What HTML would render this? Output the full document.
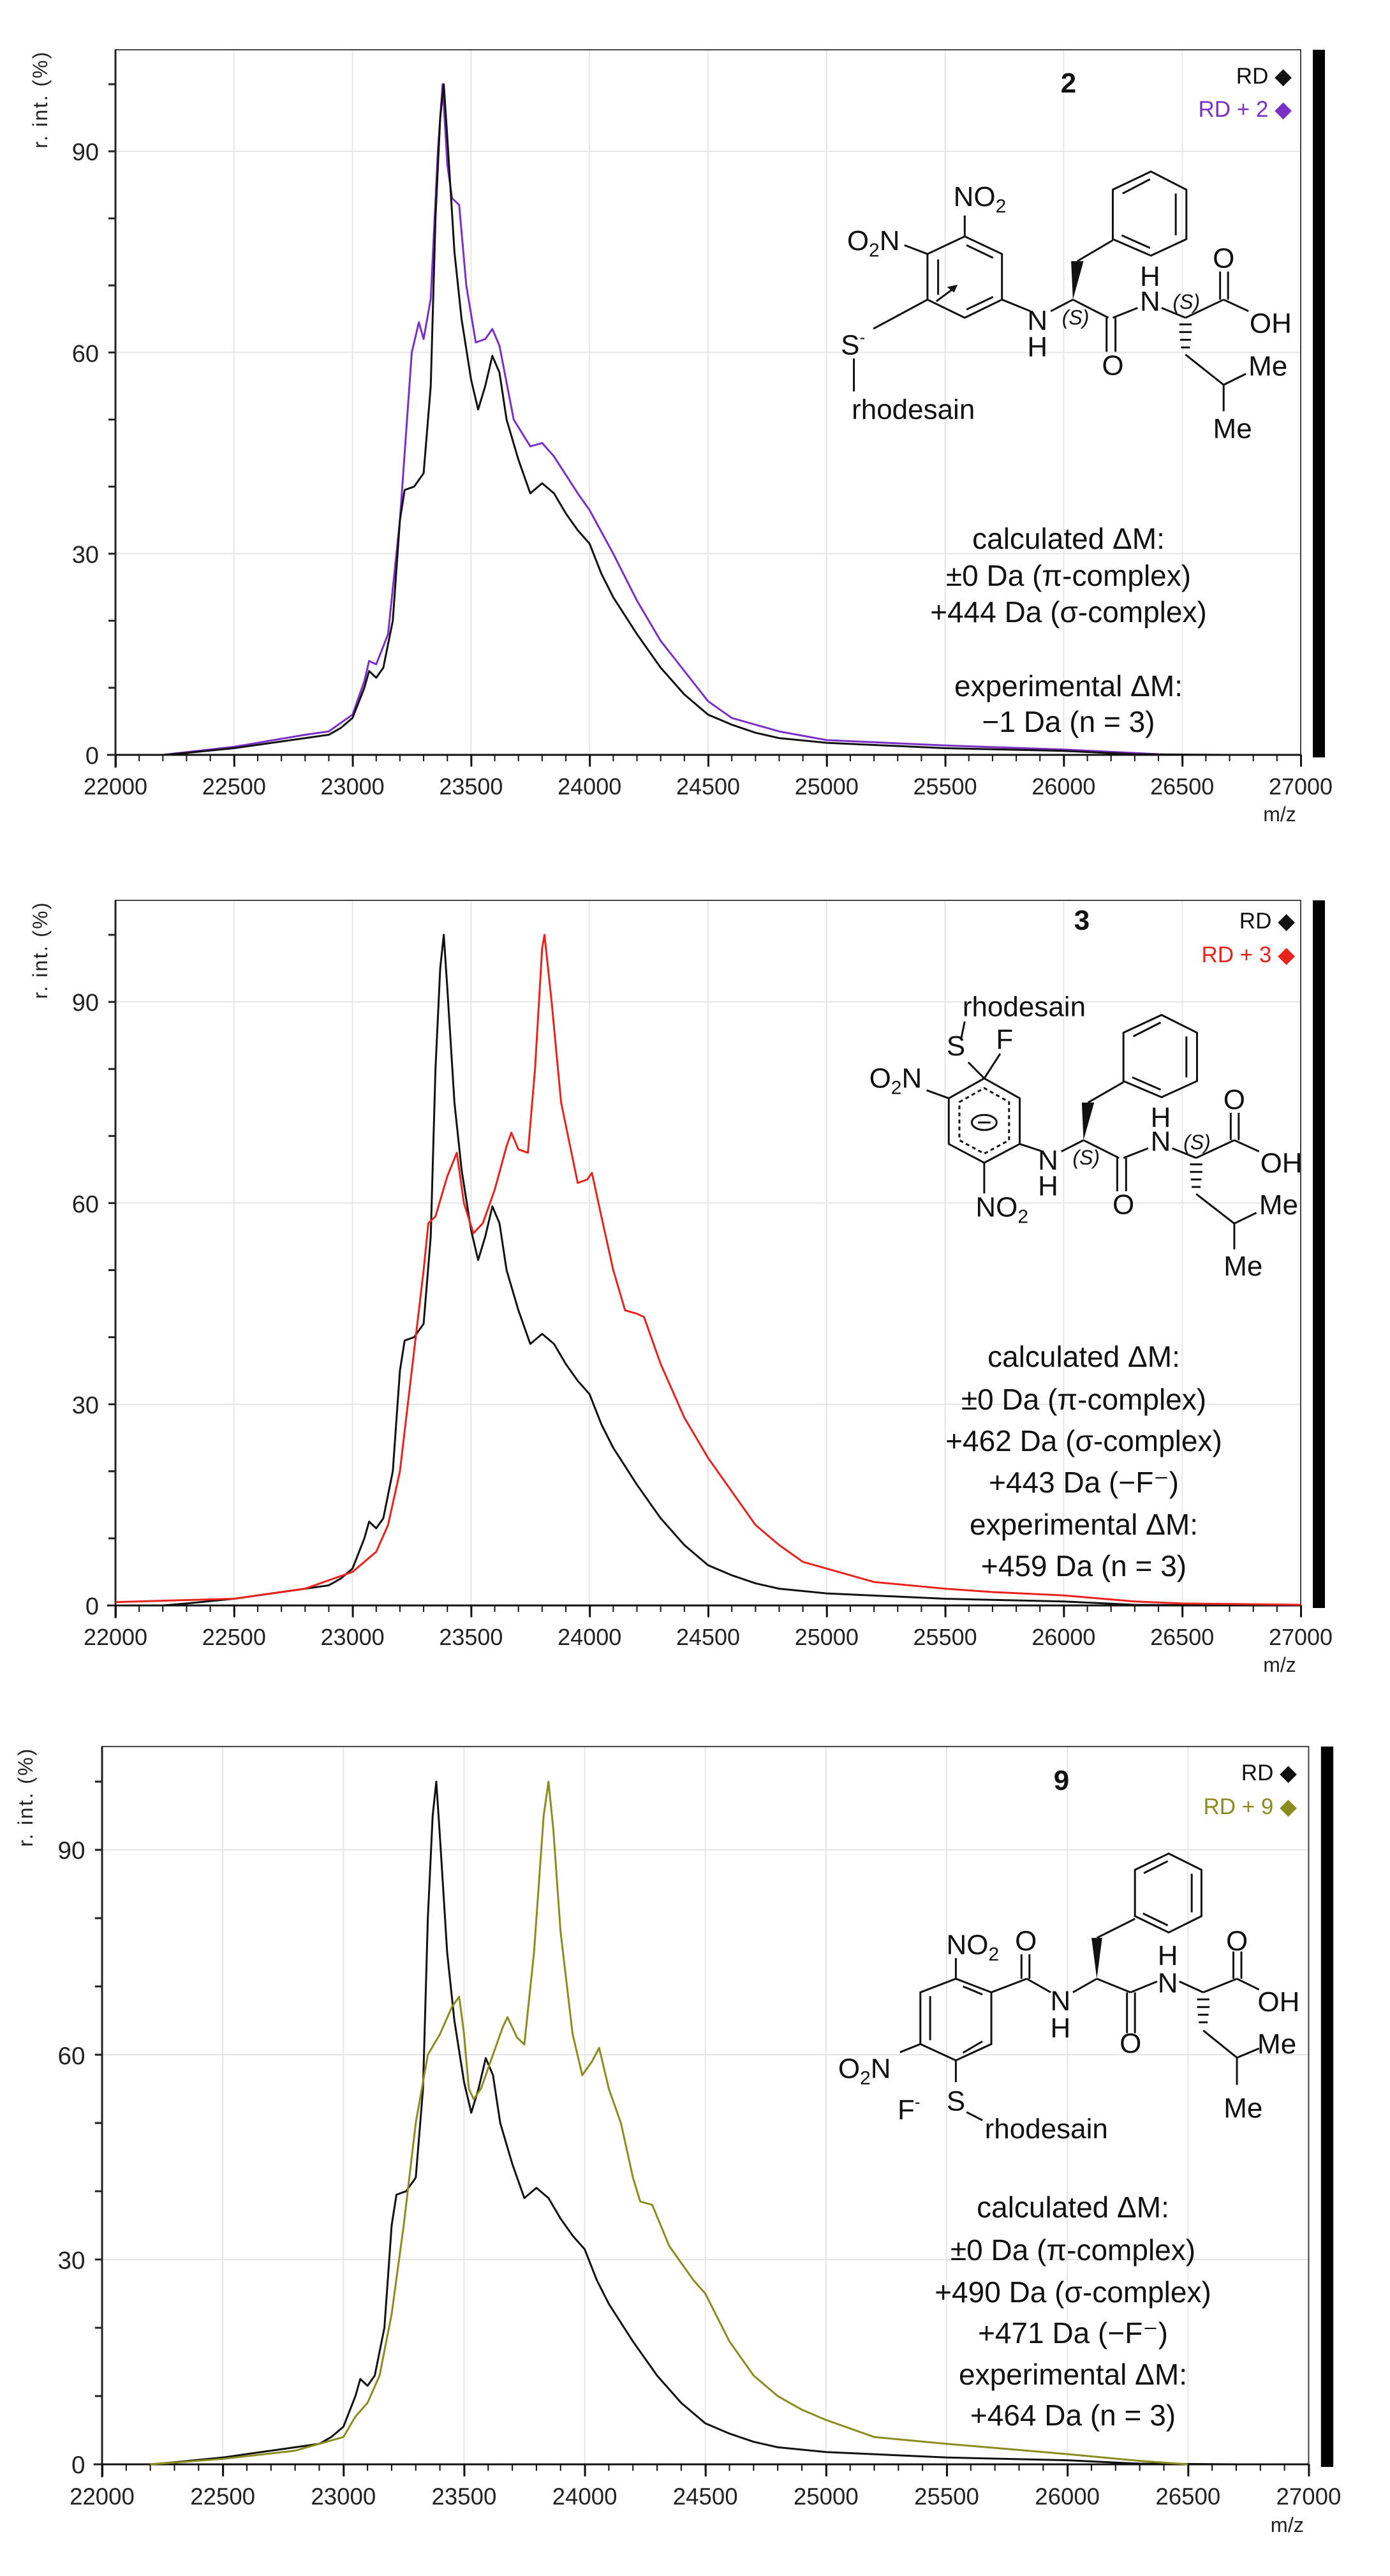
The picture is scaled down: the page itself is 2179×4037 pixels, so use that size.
<!DOCTYPE html>
<html><head><meta charset="utf-8"><style>
html,body{margin:0;padding:0;background:#fff}
svg{display:block}
text{font-family:"Liberation Sans",Arial,sans-serif}
</style></head><body>
<svg width="2179" height="4037" viewBox="0 0 2179 4037" xmlns="http://www.w3.org/2000/svg">
<defs>
<g id="axes">
  <g stroke="#e6e6e6" stroke-width="2">
    <path d="M366.8 78V1183M552.6 78V1183M738.4 78V1183M924.2 78V1183M1110 78V1183M1295.8 78V1183M1481.6 78V1183M1667.4 78V1183M1853.2 78V1183"/>
    <path d="M181 867.7H2039M181 552.4H2039M181 237.1H2039"/>
  </g>
  <rect x="181" y="78" width="1858" height="1105" fill="none" stroke="#444" stroke-width="2"/>
  <line x1="181" y1="78" x2="181" y2="1203" stroke="#222" stroke-width="3"/>
  <line x1="168" y1="1183" x2="2039" y2="1183" stroke="#111" stroke-width="3"/>
  <line x1="181" y1="1188" x2="2041" y2="1188" stroke="#111" stroke-width="10" stroke-dasharray="2 35.16" transform="translate(-1,0)"/>
  <line x1="180" y1="1192" x2="2045" y2="1192" stroke="#111" stroke-width="19" stroke-dasharray="3 182.8"/>
  <line x1="175.5" y1="1184.5" x2="175.5" y2="120" stroke="#222" stroke-width="11" stroke-dasharray="3 102.1"/>
  <g font-size="36" fill="#222" text-anchor="middle">
    <text x="181" y="1245">22000</text><text x="366.8" y="1245">22500</text><text x="552.6" y="1245">23000</text>
    <text x="738.4" y="1245">23500</text><text x="924.2" y="1245">24000</text><text x="1110" y="1245">24500</text>
    <text x="1295.8" y="1245">25000</text><text x="1481.6" y="1245">25500</text><text x="1667.4" y="1245">26000</text>
    <text x="1853.2" y="1245">26500</text><text x="2039" y="1245">27000</text>
    <text x="2006" y="1287" font-size="32">m/z</text>
  </g>
  <g font-size="38" fill="#222" text-anchor="end">
    <text x="155" y="1197">0</text><text x="155" y="882">30</text><text x="155" y="567">60</text><text x="155" y="251">90</text>
  </g>
  <text transform="translate(74,157) rotate(-90)" font-size="32" fill="#222" text-anchor="middle" textLength="151">r. int. (%)</text>
  <rect x="2058" y="78" width="19" height="1109" fill="#000"/>
</g>
</defs>

<!-- Panels axes -->
<use href="#axes"/>
<use href="#axes" transform="translate(0,1333)"/>
<use href="#axes" transform="translate(160,3862) scale(1.018) translate(-181,-1183)"/>

<!-- Panel 1 curves -->
<g transform="matrix(0.3716,0,0,-10.51,-7994.2,1183)" fill="none" stroke-width="3" stroke-linejoin="round">
<polyline vector-effect="non-scaling-stroke" stroke="#7b2fc4" points="22200,0 22500,1.2 22800,3 22900,3.5 23000,6 23050,11 23070,14 23100,13.5 23150,18 23200,35 23250,60 23280,64.5 23300,62 23330,68 23360,90 23380,100 23400,88 23420,83 23450,82 23480,70 23520,61.5 23560,62 23590,63.5 23620,61 23680,50 23750,46 23800,46.5 23850,44.5 23950,39 24000,36.5 24100,30 24200,23 24300,17 24400,12.5 24500,8 24600,5.5 24800,3.5 25000,2.2 25500,1.4 26000,0.8 26400,0.1"/>
<polyline id="blk" vector-effect="non-scaling-stroke" stroke="#111" points="22200,0 22300,0.3 22500,1 22700,2 22800,2.5 22900,3 22950,4 23000,5.5 23050,10 23070,12.5 23100,11.5 23130,13 23170,20 23200,35 23220,39.5 23260,40 23300,42 23330,55 23350,80 23370,95 23385,100 23400,92 23430,75 23460,65 23500,56 23530,51.5 23560,55 23590,59.5 23620,57 23650,50 23700,44 23750,39 23800,40.5 23850,39 23900,36 23950,33.5 24000,31.5 24050,27 24100,23.5 24200,18 24300,13 24400,9 24500,6 24600,4.5 24700,3.3 24800,2.5 25000,1.8 25500,1.0 26000,0.6 26300,0.1 26700,0"/>
</g>

<!-- Panel 2 curves -->
<g transform="translate(0,1333) matrix(0.3716,0,0,-10.51,-7994.2,1183)" fill="none" stroke-width="3" stroke-linejoin="round">
<polyline vector-effect="non-scaling-stroke" stroke="#111" points="22200,0 22300,0.3 22500,1 22700,2 22800,2.5 22900,3 22950,4 23000,5.5 23050,10 23070,12.5 23100,11.5 23130,13 23170,20 23200,35 23220,39.5 23260,40 23300,42 23330,55 23350,80 23370,95 23385,100 23400,92 23430,75 23460,65 23500,56 23530,51.5 23560,55 23590,59.5 23620,57 23650,50 23700,44 23750,39 23800,40.5 23850,39 23900,36 23950,33.5 24000,31.5 24050,27 24100,23.5 24200,18 24300,13 24400,9 24500,6 24600,4.5 24700,3.3 24800,2.5 25000,1.8 25500,1.0 26000,0.6 26300,0.1 26700,0"/>
<polyline vector-effect="non-scaling-stroke" stroke="#e8221d" points="22000,0.5 22500,1 22800,2.5 23000,5 23100,8 23150,12 23200,20 23250,35 23300,50 23320,57 23350,58 23400,64 23440,67.5 23470,60 23510,55.5 23550,57 23600,62 23650,68.5 23670,70.5 23700,68 23740,67.5 23770,80 23800,98 23810,100 23840,90 23880,75 23950,63 23990,63.5 24010,64.5 24050,58 24100,50 24150,44 24200,43.5 24230,43 24300,36 24400,28 24500,22 24600,17 24700,12 24800,9 24900,6.5 25000,5.5 25200,3.5 25500,2.5 25700,2 26000,1.5 26300,0.6 26500,0.3 27000,0.1"/>
</g>

<!-- Panel 3 curves -->
<g transform="translate(160,3862) scale(1.018) translate(-181,-1183) matrix(0.3716,0,0,-10.51,-7994.2,1183)" fill="none" stroke-width="3" stroke-linejoin="round">
<polyline vector-effect="non-scaling-stroke" stroke="#111" points="22200,0 22300,0.3 22500,1 22700,2 22800,2.5 22900,3 22950,4 23000,5.5 23050,10 23070,12.5 23100,11.5 23130,13 23170,20 23200,35 23220,39.5 23260,40 23300,42 23330,55 23350,80 23370,95 23385,100 23400,92 23430,75 23460,65 23500,56 23530,51.5 23560,55 23590,59.5 23620,57 23650,50 23700,44 23750,39 23800,40.5 23850,39 23900,36 23950,33.5 24000,31.5 24050,27 24100,23.5 24200,18 24300,13 24400,9 24500,6 24600,4.5 24700,3.3 24800,2.5 25000,1.8 25500,1.0 26000,0.6 26300,0.1 26700,0"/>
<polyline vector-effect="non-scaling-stroke" stroke="#8c8c1e" points="22200,0 22500,0.8 22800,2 23000,4 23050,7 23100,9 23150,13 23200,22 23250,35 23300,50 23350,60 23400,63 23450,67 23480,68.5 23500,63 23520,55 23540,53.5 23570,55 23620,60 23660,64 23680,65.5 23720,62.5 23750,61.5 23790,75 23830,95 23850,100 23870,93 23900,78 23950,63 23990,57 24030,59 24060,61 24100,55 24150,50 24200,42 24230,38.5 24280,38 24350,32 24450,27 24500,25 24600,18 24700,13 24800,10 24900,8 25000,6.5 25200,4 25500,3 26000,1.5 26300,0.5 26500,0"/>
</g>

<!-- Legends and labels -->
<g font-size="35" text-anchor="end">
  <text x="2025" y="131" fill="#111">RD ◆</text>
  <text x="2025" y="183" fill="#7b2fc4">RD + 2 ◆</text>
  <text x="2030" y="1455" fill="#111">RD ◆</text>
  <text x="2030" y="1508" fill="#e8221d">RD + 3 ◆</text>
  <text x="2033" y="2790" fill="#111">RD ◆</text>
  <text x="2033" y="2843" fill="#8c8c1e">RD + 9 ◆</text>
</g>
<g font-size="44" font-weight="bold" text-anchor="middle" fill="#111">
  <text x="1675" y="145">2</text><text x="1696" y="1457">3</text><text x="1664" y="2805">9</text>
</g>

<!-- Annotations -->
<g font-size="46" text-anchor="middle" fill="#111">
  <text x="1675" y="860">calculated ΔM:</text>
  <text x="1675" y="918">±0 Da (π-complex)</text>
  <text x="1675" y="975">+444 Da (σ-complex)</text>
  <text x="1675" y="1091">experimental ΔM:</text>
  <text x="1675" y="1147">−1 Da (n = 3)</text>

  <text x="1699" y="2142">calculated ΔM:</text>
  <text x="1699" y="2209">±0 Da (π-complex)</text>
  <text x="1699" y="2274">+462 Da (σ-complex)</text>
  <text x="1699" y="2339">+443 Da (−F⁻)</text>
  <text x="1699" y="2405">experimental ΔM:</text>
  <text x="1699" y="2470">+459 Da (n = 3)</text>

  <text x="1682" y="3475">calculated ΔM:</text>
  <text x="1682" y="3542">±0 Da (π-complex)</text>
  <text x="1682" y="3608">+490 Da (σ-complex)</text>
  <text x="1682" y="3672">+471 Da (−F⁻)</text>
  <text x="1682" y="3737">experimental ΔM:</text>
  <text x="1682" y="3801">+464 Da (n = 3)</text>
</g>

<!-- Structure panel 1 (display coords) -->
<g transform="matrix(1.39,0,0,0.8616,0,0)" fill="none" stroke="#111" stroke-width="3">
  <g vector-effect="non-scaling-stroke">
  <polygon vector-effect="non-scaling-stroke" points="1046,462 1088,430 1130,462 1130,545 1088,578 1046,545"/>
  <path vector-effect="non-scaling-stroke" d="M1090,446L1120,469M1120,540L1090,563M1058,472V536M1088,430V392M1046,462L1020,446M1046,545L985,598M963,652V712M1130,545L1162,566M1185,566L1210,545M1215,475L1255,437M1210,545L1250,578M1248,578V640M1258,578V640M1255,578L1283,560M1310,560L1337,578M1337,578L1380,545M1376,545V494M1385,545V494M1380,545L1408,566M1337,645L1380,700M1380,700L1405,680M1380,700V748M1056,548L1076,524"/>
  <path vector-effect="non-scaling-stroke" d="M1330,590H1344M1330,604H1344M1331,618H1343M1332,632H1342"/>
  <polygon vector-effect="non-scaling-stroke" points="1255,345 1298,312 1338,345 1338,435 1298,465 1255,435"/>
  <path vector-effect="non-scaling-stroke" d="M1326,352V428M1297,451L1265,428M1266,352L1297,326"/>
  </g>
  <polygon points="1210,545 1208,475 1222,475" fill="#111" stroke="none"/>
  <polygon points="1080,518 1068,522 1076,532" fill="#111" stroke="none"/>
</g>
<g fill="#111" font-size="44">
  <g transform="matrix(1.39,0,0,0.8616,0,0)">
    <text transform="translate(1105,375) scale(.7194,1.1606)" text-anchor="middle">NO<tspan font-size="30" dy="10">2</tspan></text>
    <text transform="translate(985,455) scale(.7194,1.1606)" text-anchor="middle">O<tspan font-size="30" dy="10">2</tspan><tspan dy="-10">N</tspan></text>
    <text transform="translate(962,645) scale(.7194,1.1606)" text-anchor="middle">S<tspan font-size="26" dy="-18">-</tspan></text>
    <text transform="translate(1030,762) scale(.7194,1.1606)" text-anchor="middle">rhodesain</text>
    <text transform="translate(1170,600) scale(.7194,1.1606)" text-anchor="middle">N</text>
    <text transform="translate(1170,648) scale(.7194,1.1606)" text-anchor="middle">H</text>
    <text transform="translate(1255,682) scale(.7194,1.1606)" text-anchor="middle">O</text>
    <text transform="translate(1297,520) scale(.7194,1.1606)" text-anchor="middle">H</text>
    <text transform="translate(1297,565) scale(.7194,1.1606)" text-anchor="middle">N</text>
    <text transform="translate(1380,487) scale(.7194,1.1606)" text-anchor="middle">O</text>
    <text transform="translate(1433,605) scale(.7194,1.1606)" text-anchor="middle">OH</text>
    <text transform="translate(1430,683) scale(.7194,1.1606)" text-anchor="middle">Me</text>
    <text transform="translate(1390,797) scale(.7194,1.1606)" text-anchor="middle">Me</text>
    <text transform="translate(1213,590) scale(.7194,1.1606)" text-anchor="middle" font-size="32" font-style="italic">(S)</text>
    <text transform="translate(1338,562) scale(.7194,1.1606)" text-anchor="middle" font-size="32" font-style="italic">(S)</text>
  </g>
</g>

<!-- Structure panel 2 -->
<g transform="matrix(1.39,0,0,0.8424,0,1380)" fill="none" stroke="#111" stroke-width="3">
  <polygon vector-effect="non-scaling-stroke" points="1070,405 1110,368 1150,405 1150,490 1110,525 1070,490"/>
  <polygon vector-effect="non-scaling-stroke" stroke-dasharray="6 5" points="1082,412 1110,386 1138,412 1138,483 1110,508 1082,483"/>
  <circle vector-effect="non-scaling-stroke" cx="1110" cy="450" r="14"/>
  <path vector-effect="non-scaling-stroke" d="M1103,450H1117M1110,368L1092,338M1110,368L1128,322M1084,294L1088,262M1070,405L1045,390M1110,525V582M1150,490L1174,503"/>
  <g transform="translate(12,-62)">
  <path vector-effect="non-scaling-stroke" d="M1185,566L1210,545M1215,475L1255,437M1210,545L1250,578M1248,578V640M1258,578V640M1255,578L1283,560M1310,560L1337,578M1337,578L1380,545M1376,545V494M1385,545V494M1380,545L1408,566M1337,645L1380,700M1380,700L1405,680M1380,700V748M1330,590H1344M1330,604H1344M1331,618H1343M1332,632H1342"/>
  <polygon vector-effect="non-scaling-stroke" points="1255,345 1298,312 1338,345 1338,435 1298,465 1255,435"/>
  <path vector-effect="non-scaling-stroke" d="M1326,352V428M1297,451L1265,428M1266,352L1297,326"/>
  <polygon points="1210,545 1208,475 1222,475" fill="#111" stroke="none"/>
  </g>
</g>
<g fill="#111" font-size="44" transform="matrix(1.39,0,0,0.8424,0,1380)">
  <text transform="translate(1155,252) scale(.7194,1.1871)" text-anchor="middle">rhodesain</text>
  <text transform="translate(1078,325) scale(.7194,1.1871)" text-anchor="middle">S</text>
  <text transform="translate(1133,313) scale(.7194,1.1871)" text-anchor="middle">F</text>
  <text transform="translate(1010,385) scale(.7194,1.1871)" text-anchor="middle">O<tspan font-size="30" dy="10">2</tspan><tspan dy="-10">N</tspan></text>
  <text transform="translate(1130,625) scale(.7194,1.1871)" text-anchor="middle">NO<tspan font-size="30" dy="10">2</tspan></text>
  <g transform="translate(12,-62)">
    <text transform="translate(1170,600) scale(.7194,1.1871)" text-anchor="middle">N</text>
    <text transform="translate(1170,648) scale(.7194,1.1871)" text-anchor="middle">H</text>
    <text transform="translate(1255,682) scale(.7194,1.1871)" text-anchor="middle">O</text>
    <text transform="translate(1297,520) scale(.7194,1.1871)" text-anchor="middle">H</text>
    <text transform="translate(1297,565) scale(.7194,1.1871)" text-anchor="middle">N</text>
    <text transform="translate(1380,487) scale(.7194,1.1871)" text-anchor="middle">O</text>
    <text transform="translate(1433,605) scale(.7194,1.1871)" text-anchor="middle">OH</text>
    <text transform="translate(1430,683) scale(.7194,1.1871)" text-anchor="middle">Me</text>
    <text transform="translate(1390,797) scale(.7194,1.1871)" text-anchor="middle">Me</text>
    <text transform="translate(1213,590) scale(.7194,1.1871)" text-anchor="middle" font-size="32" font-style="italic">(S)</text>
    <text transform="translate(1338,562) scale(.7194,1.1871)" text-anchor="middle" font-size="32" font-style="italic">(S)</text>
  </g>
</g>

<!-- Structure panel 3 -->
<g transform="matrix(1.39,0,0,0.8532,0,2700)" fill="none" stroke="#111" stroke-width="3">
  <polygon vector-effect="non-scaling-stroke" points="1038,495 1078,470 1118,495 1118,590 1078,620 1038,590"/>
  <path vector-effect="non-scaling-stroke" d="M1049,502V583M1086,484L1108,499M1108,585L1086,606M1078,470V432M1118,495L1158,470M1152,470V425M1161,470V425M1158,470L1185,495M1210,495L1237,470M1237,395L1280,360M1237,470L1275,495M1271,495V570M1280,495V570M1275,495L1305,475M1330,475L1357,495M1357,495L1395,470M1391,470V420M1400,470V420M1395,470L1420,490M1357,565L1395,615M1395,615L1420,598M1395,615V665M1038,590L1015,605M1078,620V660M1090,715L1108,730"/>
  <path vector-effect="non-scaling-stroke" d="M1350,508H1364M1350,522H1364M1351,536H1363M1352,550H1362"/>
  <polygon vector-effect="non-scaling-stroke" points="1280,270 1318,240 1355,270 1355,355 1318,385 1280,355"/>
  <path vector-effect="non-scaling-stroke" d="M1344,277V348M1317,372L1289,350M1290,276L1317,254"/>
  <polygon points="1237,470 1231,395 1243,395" fill="#111" stroke="none"/>
</g>
<g fill="#111" font-size="44" transform="matrix(1.39,0,0,0.8532,0,2700)">
  <text transform="translate(1097,425) scale(.7194,1.1721)" text-anchor="middle">NO<tspan font-size="30" dy="10">2</tspan></text>
  <text transform="translate(1157,418) scale(.7194,1.1721)" text-anchor="middle">O</text>
  <text transform="translate(1196,528) scale(.7194,1.1721)" text-anchor="middle">N</text>
  <text transform="translate(1196,578) scale(.7194,1.1721)" text-anchor="middle">H</text>
  <text transform="translate(1275,606) scale(.7194,1.1721)" text-anchor="middle">O</text>
  <text transform="translate(1317,445) scale(.7194,1.1721)" text-anchor="middle">H</text>
  <text transform="translate(1317,495) scale(.7194,1.1721)" text-anchor="middle">N</text>
  <text transform="translate(1395,418) scale(.7194,1.1721)" text-anchor="middle">O</text>
  <text transform="translate(1442,530) scale(.7194,1.1721)" text-anchor="middle">OH</text>
  <text transform="translate(1440,607) scale(.7194,1.1721)" text-anchor="middle">Me</text>
  <text transform="translate(1402,725) scale(.7194,1.1721)" text-anchor="middle">Me</text>
  <text transform="translate(975,652) scale(.7194,1.1721)" text-anchor="middle">O<tspan font-size="30" dy="10">2</tspan><tspan dy="-10">N</tspan></text>
  <text transform="translate(1078,712) scale(.7194,1.1721)" text-anchor="middle">S</text>
  <text transform="translate(1180,763) scale(.7194,1.1721)" text-anchor="middle">rhodesain</text>
  <text transform="translate(1025,728) scale(.7194,1.1721)" text-anchor="middle">F<tspan font-size="26" dy="-18">-</tspan></text>
</g>
</svg>
</body></html>
